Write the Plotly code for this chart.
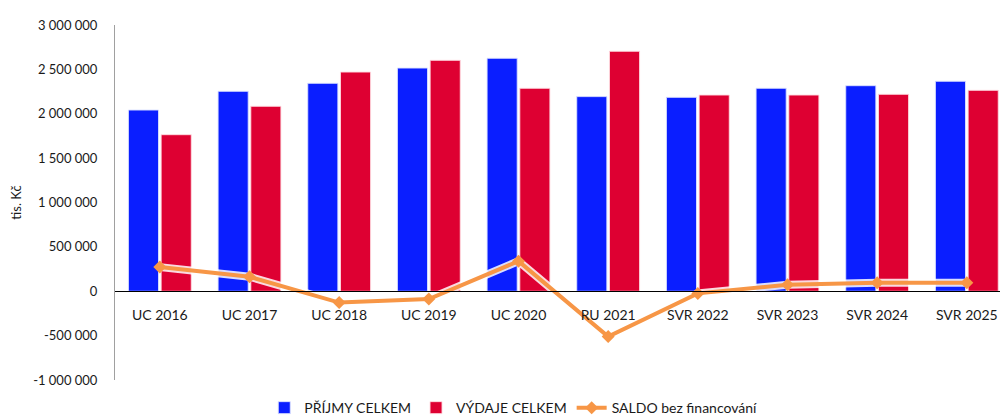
import plotly.graph_objects as go

categories = ["UC 2016", "UC 2017", "UC 2018", "UC 2019", "UC 2020",
              "RU 2021", "SVR 2022", "SVR 2023", "SVR 2024", "SVR 2025"]
prijmy = [2042000, 2253000, 2343000, 2515000, 2625000,
          2193000, 2185000, 2287000, 2316000, 2366000]
vydaje = [1764000, 2084000, 2470000, 2602000, 2287000,
          2704000, 2211000, 2211000, 2219000, 2264000]
saldo = [272000, 163000, -128000, -87000, 339000,
         -511000, -24000, 73000, 95000, 97000]
y_tickvals = [-1000000, -500000, 0, 500000, 1000000, 1500000, 2000000, 2500000, 3000000]
y_ticktext = ["-1 000 000", "-500 000", "0", "500 000", "1 000 000",
              "1 500 000", "2 000 000", "2 500 000", "3 000 000"]

FONT = "Lato"
BLUE = "#0A1EFF"
RED = "#DE0032"
ORANGE = "#F79646"

fig = go.Figure()
fig.add_trace(go.Bar(x=categories, y=prijmy, name="PŘÍJMY CELKEM",
                     marker=dict(color=BLUE, line=dict(color="rgba(220,225,255,0.9)", width=1))))
fig.add_trace(go.Bar(x=categories, y=vydaje, name="VÝDAJE CELKEM",
                     marker=dict(color=RED, line=dict(color="rgba(255,220,225,0.9)", width=1))))
# soft glow under the line
fig.add_trace(go.Scatter(x=categories, y=saldo, mode="lines", showlegend=False,
                         hoverinfo="skip",
                         line=dict(color="rgba(255,255,255,0.85)", width=8)))
fig.add_trace(go.Scatter(x=categories, y=saldo, name="SALDO bez financování",
                         mode="lines+markers",
                         line=dict(color=ORANGE, width=4),
                         marker=dict(symbol="diamond", size=10, color=ORANGE)))

fig.update_layout(
    width=1000, height=415,
    margin=dict(l=115, r=0, t=25, b=35, autoexpand=False),
    paper_bgcolor="white", plot_bgcolor="white",
    font=dict(family=FONT, size=13, color="#1a1a1a"),
    barmode="group", bargap=0.27, bargroupgap=0.08,
    showlegend=True,
    legend=dict(orientation="h", x=0.45, xanchor="center",
                y=-0.079, yanchor="middle",
                font=dict(family=FONT, size=14, color="#1a1a1a"),
                bgcolor="rgba(0,0,0,0)", tracegroupgap=0),
)
fig.update_xaxes(
    type="category", range=[-0.5, 9.37], domain=[0, 1],
    anchor="free", position=0.25, automargin=False,
    showline=True, linecolor="black", linewidth=1,
    showgrid=False, zeroline=False, tickangle=0,
    ticks="outside", ticklen=11, tickcolor="rgba(0,0,0,0)",
    tickfont=dict(family=FONT, size=14, color="#1a1a1a"),
)
fig.update_yaxes(
    range=[-1000000, 3000000], automargin=False,
    tickvals=y_tickvals, ticktext=y_ticktext,
    showline=True, linecolor="#A0A0A0", linewidth=1,
    showgrid=False, zeroline=False,
    ticks="outside", ticklen=14, tickcolor="rgba(0,0,0,0)",
    tickfont=dict(family=FONT, size=13, color="#1a1a1a"),
    title=dict(text="tis. Kč", font=dict(family=FONT, size=13, color="#1a1a1a"), standoff=8),
)

fig.write_html(
    "out.html",
    config={"displayModeBar": False},
    post_script="document.body.style.margin='0';document.body.style.overflow='hidden';",
)
